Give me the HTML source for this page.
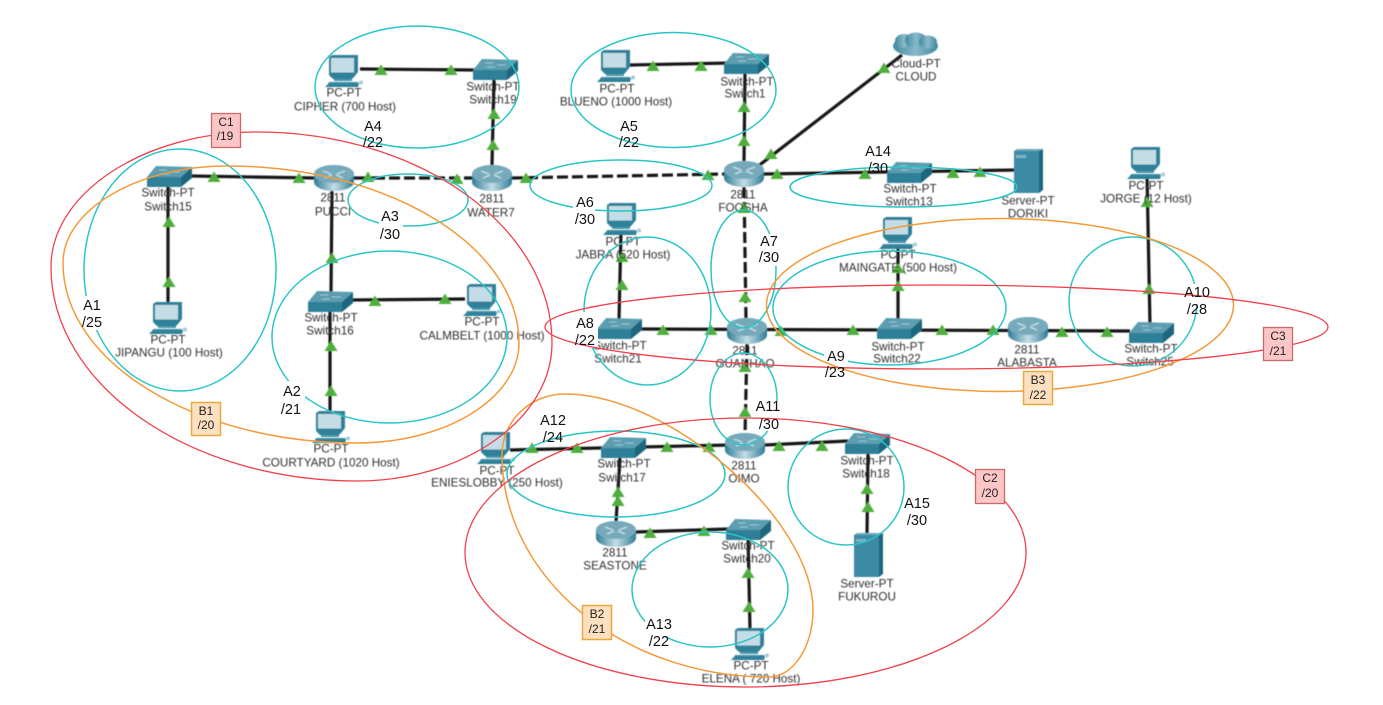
<!DOCTYPE html>
<html lang="en">
<head>
<meta charset="utf-8">
<title>Network Diagram</title>
<style>
html,body{margin:0;padding:0;background:#fff;width:1383px;height:705px;overflow:hidden}
svg{display:block}
text{font-family:"Liberation Sans",sans-serif}
.n text{font-size:11.7px;fill:#2e2e2e;text-anchor:middle;dominant-baseline:central}
.a text{font-size:14.5px;fill:#111;text-anchor:middle;dominant-baseline:central}
.b text{font-size:12px;fill:#222;text-anchor:middle;dominant-baseline:central}
.l{stroke:#161616;stroke-width:3.2;fill:none}
.d{stroke:#161616;stroke-width:3.2;fill:none;stroke-dasharray:11 4}
.c{fill:none;stroke:#2cc5c5;stroke-width:1.5}
.o{fill:none;stroke:#f59a3a;stroke-width:1.5}
.r{fill:none;stroke:#f0404a;stroke-width:1.3}
.rb{fill:#fdc6c6;stroke:#c96a6a;stroke-width:1.3}
.ob{fill:#fde0c0;stroke:#e8a83e;stroke-width:1.5}
</style>
</head>
<body>
<svg width="1383" height="705" viewBox="0 0 1383 705" xmlns="http://www.w3.org/2000/svg">
<defs>
<filter id="bl" x="-2%" y="-2%" width="104%" height="104%"><feGaussianBlur stdDeviation="0.55"/></filter>
<linearGradient id="rg" x1="0" y1="0" x2="1" y2="0">
<stop offset="0" stop-color="#2f7d96"/><stop offset=".5" stop-color="#c4dde6"/><stop offset="1" stop-color="#2f7d96"/>
</linearGradient>
<linearGradient id="cg" x1="0" y1="0" x2="1" y2="0">
<stop offset="0" stop-color="#3f8aa2"/><stop offset=".5" stop-color="#8ab9c8"/><stop offset="1" stop-color="#3f8aa2"/>
</linearGradient>
<g id="sw">
<polygon points="0,11 9,0 45,1 34,11" fill="#5c9db1"/>
<polygon points="0,11 34,11 34,21 0,21" fill="#2f7f98"/>
<polygon points="34,11 45,1 45,12 34,21" fill="#1e667e"/>
<path d="M12 4H20M24 6H33M14 8H22" stroke="#9cc6d3" stroke-width="1" fill="none"/>
</g>
<g id="ro">
<path d="M0 9A20 9 0 0 1 40 9V17A20 9 0 0 1 0 17Z" fill="url(#rg)"/>
<ellipse cx="20" cy="9" rx="20" ry="9" fill="#76aabb"/>
<path d="M9 6L17 9M31 6L23 9M11 13L18 10M29 13L22 10" stroke="#c6dfe7" stroke-width="1.3" fill="none"/>
</g>
<g id="pc">
<polygon points="4,2 7,0 33,0 33,17 29,22 27,24 8,24 4,20" fill="#2f8199"/>
<rect x="6" y="3" width="23" height="14.5" fill="#c3dce5"/>
<rect x="9" y="24" width="18" height="2" fill="#4b95ab"/>
<polygon points="4,27 33,27 34,29 3,29" fill="#3d8ba3"/>
<polygon points="0,32 3,29 34,29 33,32" fill="#2f7f98"/>
<ellipse cx="36" cy="27.5" rx="2.2" ry="2" fill="#a6ccd7"/>
</g>
<g id="sv">
<polygon points="0,2 3,0 29,0 25,2" fill="#6ba9bc"/>
<rect x="0" y="2" width="25" height="42" fill="#3a8ba4"/>
<polygon points="25,2 29,0 29,41 25,44" fill="#1e667e"/>
<rect x="2" y="6" width="10" height="3" fill="#7fb3c4"/>
</g>
<polygon id="t" points="0,-5.5 6.5,5 -6.5,5" fill="#4fae3c"/>
</defs>
<rect width="1383" height="705" fill="#fff"/>

<g filter="url(#bl)">
<!-- links -->
<path class="l" d="M192 176L316 178M168 305V187M332 190L331 293M350 300L465 299M330 412V312M492 165L494 78M360 69L475 70M630 65L730 63M745 72L744 162M757 167L902 55M764 174L1015 170M640 329L1130 331M621 232L619 320M898 248V320M1147 175L1150 325M510 450L730 445M765 445L848 441M868 450L867 535M620 458L616 522M636 532L728 529M748 535L750 630M354 178H374"/>
<path class="d" d="M374 178L474 178M512 178L726 174M744 187L746 320M747 344L745 435"/>
<!-- icons -->
<use href="#sw" x="147" y="166"/><use href="#ro" x="314" y="165"/><use href="#ro" x="472" y="165"/>
<use href="#sw" x="473" y="59"/><use href="#pc" x="325" y="55"/><use href="#pc" x="597" y="50"/>
<use href="#sw" x="724" y="53"/><use href="#ro" x="724" y="161"/><use href="#sw" x="887" y="162"/>
<use href="#sv" x="1014" y="149"/><use href="#pc" x="603" y="203"/><use href="#pc" x="879" y="217"/>
<use href="#pc" x="1127" y="147"/><use href="#sw" x="597" y="318"/><use href="#ro" x="727" y="318"/>
<use href="#sw" x="877" y="318"/><use href="#ro" x="1008" y="317"/><use href="#sw" x="1129" y="322"/>
<use href="#pc" x="149" y="302"/><use href="#sw" x="308" y="291"/><use href="#pc" x="463" y="284"/>
<use href="#pc" x="312" y="411"/><use href="#pc" x="477" y="432"/><use href="#sw" x="601" y="437"/>
<use href="#ro" x="725" y="433"/><use href="#sw" x="845" y="433"/><use href="#ro" x="596" y="521"/>
<use href="#sw" x="726" y="519"/><use href="#pc" x="731" y="628"/><use href="#sv" x="854" y="533"/>
<g fill="url(#cg)">
<ellipse cx="915.5" cy="46" rx="22.5" ry="10"/><ellipse cx="904" cy="41" rx="9" ry="7"/><ellipse cx="916" cy="40" rx="11" ry="7.5"/><ellipse cx="928" cy="42" rx="9" ry="6.5"/>
</g>
<!-- triangles -->
<g>
<use href="#t" x="214" y="177"/><use href="#t" x="299" y="178"/><use href="#t" x="368" y="177"/><use href="#t" x="457" y="179"/><use href="#t" x="493" y="145"/><use href="#t" x="494" y="114"/><use href="#t" x="526" y="178"/><use href="#t" x="169" y="222"/><use href="#t" x="169" y="282"/><use href="#t" x="332" y="258"/><use href="#t" x="331" y="346"/><use href="#t" x="331" y="391"/><use href="#t" x="375" y="301"/><use href="#t" x="445" y="299"/><use href="#t" x="381" y="70"/><use href="#t" x="451" y="70"/>
<use href="#t" x="653" y="66"/><use href="#t" x="701" y="66"/><use href="#t" x="744" y="107"/><use href="#t" x="744" y="141"/><use href="#t" x="884" y="68"/><use href="#t" x="771" y="154"/><use href="#t" x="708" y="175"/><use href="#t" x="777" y="174"/><use href="#t" x="865" y="174"/><use href="#t" x="953" y="173"/><use href="#t" x="980" y="172"/><use href="#t" x="744" y="208"/><use href="#t" x="745" y="297"/><use href="#t" x="622" y="285"/><use href="#t" x="622" y="257"/><use href="#t" x="663" y="330"/><use href="#t" x="711" y="330"/><use href="#t" x="781" y="331"/><use href="#t" x="853" y="330"/><use href="#t" x="942" y="330"/><use href="#t" x="993" y="330"/><use href="#t" x="898" y="286"/><use href="#t" x="898" y="268"/><use href="#t" x="745" y="367"/>
<use href="#t" x="1062" y="332"/><use href="#t" x="1107" y="332"/><use href="#t" x="1149" y="289"/><use href="#t" x="1147" y="202"/>
<use href="#t" x="532" y="448"/><use href="#t" x="577" y="448"/><use href="#t" x="667" y="447"/><use href="#t" x="709" y="447"/><use href="#t" x="779" y="446"/><use href="#t" x="822" y="446"/><use href="#t" x="745" y="412"/><use href="#t" x="867" y="489"/><use href="#t" x="868" y="507"/><use href="#t" x="618" y="492"/><use href="#t" x="618" y="501"/><use href="#t" x="650" y="533"/><use href="#t" x="704" y="531"/><use href="#t" x="748" y="573"/><use href="#t" x="749" y="607"/>
</g>
<!-- node labels -->
<g class="n">
<text x="168" y="193">Switch-PT</text><text x="168" y="207">Switch15</text>
<text x="333" y="198">2811</text><text x="333" y="212">PUCCI</text>
<text x="492" y="199">2811</text><text x="491" y="213">WATER7</text>
<text x="493" y="87">Switch-PT</text><text x="493" y="100">Switch19</text>
<text x="344" y="93">PC-PT</text><text x="345" y="107">CIPHER (700 Host)</text>
<text x="617" y="89">PC-PT</text><text x="616" y="102">BLUENO (1000 Host)</text>
<text x="747" y="82">Switch-PT</text><text x="745" y="94">Switch1</text>
<text x="916" y="64">Cloud-PT</text><text x="916" y="77">CLOUD</text>
<text x="743" y="195">2811</text><text x="743" y="208">FOOSHA</text>
<text x="910" y="189">Switch-PT</text><text x="909" y="202">Switch13</text>
<text x="1028" y="201">Server-PT</text><text x="1028" y="214">DORIKI</text>
<text x="623" y="242">PC-PT</text><text x="623" y="255">JABRA (520 Host)</text>
<text x="898" y="255">PC-PT</text><text x="898" y="268">MAINGATE (500 Host)</text>
<text x="1146" y="186">PC-PT</text><text x="1146" y="199">JORGE (12 Host)</text>
<text x="620" y="346">Switch-PT</text><text x="618" y="359">Switch21</text>
<text x="745" y="351">2811</text><text x="745" y="364">GUANHAO</text>
<text x="898" y="347">Switch-PT</text><text x="897" y="359">Switch22</text>
<text x="1027" y="350">2811</text><text x="1027" y="363">ALABASTA</text>
<text x="1151" y="349">Switch-PT</text><text x="1150" y="362">Switch25</text>
<text x="168" y="340">PC-PT</text><text x="169" y="353">JIPANGU (100 Host)</text>
<text x="331" y="318">Switch-PT</text><text x="330" y="331">Switch16</text>
<text x="482" y="322">PC-PT</text><text x="482" y="336">CALMBELT (1000 Host)</text>
<text x="331" y="449">PC-PT</text><text x="331" y="463">COURTYARD (1020 Host)</text>
<text x="497" y="471">PC-PT</text><text x="497" y="483">ENIESLOBBY (250 Host)</text>
<text x="624" y="464">Switch-PT</text><text x="622" y="478">Switch17</text>
<text x="744" y="466">2811</text><text x="744" y="479">OIMO</text>
<text x="867" y="461">Switch-PT</text><text x="866" y="474">Switch18</text>
<text x="615" y="553">2811</text><text x="615" y="566">SEASTONE</text>
<text x="748" y="546">Switch-PT</text><text x="747" y="559">Switch20</text>
<text x="751" y="666">PC-PT</text><text x="751" y="679">ELENA ( 720 Host)</text>
<text x="867" y="584">Server-PT</text><text x="867" y="597">FUKUROU</text>
</g>
</g>

<!-- cyan areas -->
<g>
<ellipse class="c" cx="180" cy="270" rx="96" ry="121"/>
<ellipse class="c" cx="389.5" cy="337" rx="117.5" ry="86"/>
<ellipse class="c" cx="408" cy="200" rx="60" ry="26"/>
<ellipse class="c" cx="417" cy="87" rx="102" ry="61"/>
<ellipse class="c" cx="673.5" cy="90" rx="102.5" ry="57.5"/>
<ellipse class="c" cx="621" cy="185.5" rx="91" ry="25.5"/>
<ellipse class="c" cx="743.5" cy="269" rx="32.5" ry="59"/>
<ellipse class="c" cx="647.5" cy="311" rx="63.5" ry="74"/>
<ellipse class="c" cx="889.5" cy="308" rx="116.5" ry="57"/>
<ellipse class="c" cx="1133" cy="301.5" rx="64" ry="64.5"/>
<ellipse class="c" cx="743.5" cy="399" rx="33.5" ry="46"/>
<ellipse class="c" cx="616" cy="474" rx="109" ry="43"/>
<ellipse class="c" cx="710" cy="589.5" rx="78" ry="57.5"/>
<ellipse class="c" cx="903.5" cy="187" rx="113.5" ry="20"/>
<ellipse class="c" cx="846" cy="487" rx="58" ry="58"/>
</g>
<!-- white label backgrounds -->
<g fill="#fff">
<rect x="80" y="296" width="30" height="34"/>
<rect x="281" y="381" width="24" height="38"/>
<rect x="379" y="208" width="24" height="36"/>
<rect x="758" y="234" width="24" height="32"/>
<rect x="574" y="312" width="24" height="36"/>
<rect x="824" y="348" width="24" height="32"/>
<rect x="1184" y="284" width="26" height="20"/>
<rect x="645" y="616" width="28" height="20"/>
<rect x="573" y="193" width="22" height="18"/>
<rect x="757" y="401" width="24" height="30"/>
</g>
<!-- orange -->
<path class="o" d="M63 263C63 210 137 166 227 166C388 166 519 246 519 343C519 398 446 443 357 443C195 443 63 362 63 263Z"/>
<path class="o" d="M502 455C502 421 530 394 565 394C669 394 813 519 813 610C813 647 793 677 769 677C622 677 502 577 502 455Z"/>
<ellipse class="o" cx="1000" cy="305" rx="233.5" ry="86.5"/>
<!-- red -->
<path class="r" d="M51 267C51 193 144 132 257 132C419 132 552 227 552 343C552 419 464 481 357 481C189 481 51 385 51 267Z"/>
<ellipse class="r" cx="745.5" cy="552.5" rx="280.5" ry="134.5"/>
<ellipse class="r" cx="936.5" cy="327" rx="391.5" ry="42"/>
<!-- area labels -->
<g class="a">
<text x="92" y="306">A1</text><text x="92" y="323">/25</text>
<text x="292" y="392">A2</text><text x="291" y="410">/21</text>
<text x="390" y="217">A3</text><text x="390" y="235">/30</text>
<text x="373" y="127">A4</text><text x="373" y="143">/22</text>
<text x="629" y="127">A5</text><text x="629" y="143">/22</text>
<text x="585" y="203">A6</text><text x="585" y="220">/30</text>
<text x="769" y="242">A7</text><text x="769" y="258">/30</text>
<text x="585" y="324">A8</text><text x="585" y="341">/22</text>
<text x="836" y="357">A9</text><text x="835" y="373">/23</text>
<text x="1197" y="293">A10</text><text x="1197" y="310">/28</text>
<text x="768" y="407">A11</text><text x="769" y="425">/30</text>
<text x="553" y="421">A12</text><text x="553" y="438">/24</text>
<text x="659" y="625">A13</text><text x="659" y="642">/22</text>
<text x="878" y="152">A14</text><text x="878" y="169">/30</text>
<text x="917" y="504">A15</text><text x="917" y="521">/30</text>
</g>
<!-- boxes -->
<g class="b">
<rect class="rb" x="211.5" y="113.5" width="29" height="34"/><text x="226" y="122">C1</text><text x="225" y="136">/19</text>
<rect class="ob" x="191.5" y="402.5" width="29" height="33"/><text x="206" y="411">B1</text><text x="206" y="425">/20</text>
<rect class="rb" x="975.5" y="469.5" width="29" height="34"/><text x="990" y="478">C2</text><text x="990" y="493">/20</text>
<rect class="ob" x="582.5" y="605.5" width="29" height="34"/><text x="597" y="614">B2</text><text x="597" y="629">/21</text>
<rect class="rb" x="1263.5" y="327.5" width="29" height="33"/><text x="1278" y="336">C3</text><text x="1278" y="351">/21</text>
<rect class="ob" x="1023.5" y="371.5" width="29" height="33"/><text x="1038" y="380">B3</text><text x="1038" y="395">/22</text>
</g>
</svg>
</body>
</html>
